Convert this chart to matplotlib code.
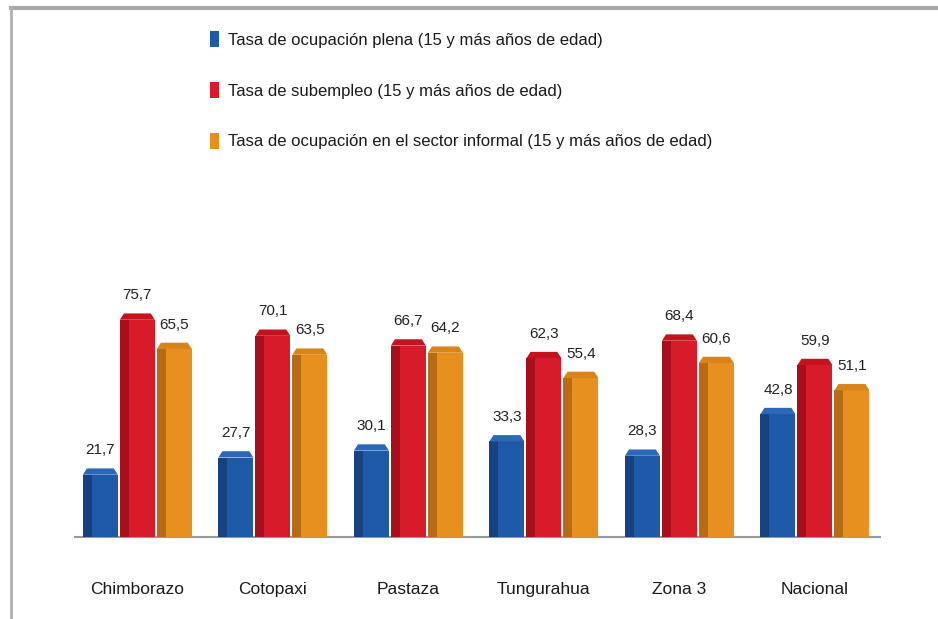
import numpy as np
import matplotlib
matplotlib.use('Agg')
import matplotlib.pyplot as plt
from matplotlib.patches import Patch, Polygon
from matplotlib.lines import Line2D

plt.rcParams['font.family'] = ['Liberation Sans', 'DejaVu Sans']

categories = ['Chimborazo', 'Cotopaxi', 'Pastaza', 'Tungurahua', 'Zona 3', 'Nacional']
plena = [21.7, 27.7, 30.1, 33.3, 28.3, 42.8]
subempleo = [75.7, 70.1, 66.7, 62.3, 68.4, 59.9]
informal = [65.5, 63.5, 64.2, 55.4, 60.6, 51.1]
labels = ['Tasa de ocupación plena (15 y más años de edad)',
          'Tasa de subempleo (15 y más años de edad)',
          'Tasa de ocupación en el sector informal (15 y más años de edad)']

front = ['#1f5aa8', '#d81b2b', '#e8901f']
side = ['#17427f', '#a5101c', '#b56c14']
cap = ['#2c68b8', '#c4121f', '#d9841a']

fig = plt.figure(figsize=(9.38, 6.19), dpi=100)
ax = fig.add_axes([75/938, 82/619, 805/938, 287/619])

x = np.arange(len(categories))
w = 0.258
off = 0.273
series = [plena, subempleo, informal]
for i, vals in enumerate(series):
    xs = x + (i - 1) * off
    ax.bar(xs, vals, width=w, color=front[i], zorder=2)
    # darker left side for a 3D look
    ax.bar(xs - w / 2, vals, width=0.065, align='edge', color=side[i], zorder=3)
    for xc, v in zip(xs, vals):
        x0, x1 = xc - w / 2, xc + w / 2
        poly = Polygon([(x0, v), (x0 + 0.03, v + 2.2), (x1 - 0.03, v + 2.2), (x1, v)],
                       closed=True, facecolor=cap[i], edgecolor='none', zorder=4)
        ax.add_patch(poly)
        ax.annotate(f'{v:.1f}'.replace('.', ','), (xc, v + 2.2), xytext=(0, 8),
                    textcoords='offset points', ha='center', va='bottom',
                    fontsize=11, color='#222222')

ax.set_xlim(-0.46, 5.48)
ax.set_ylim(0, 100)
ax.set_xticks(x)
ax.set_xticklabels(categories, fontsize=12.5, color='#1a1a1a')
ax.tick_params(axis='x', length=0, pad=32.5)
ax.set_yticks([])
for s in ['top', 'left', 'right']:
    ax.spines[s].set_visible(False)
ax.spines['bottom'].set_color('#9a9a9a')
ax.spines['bottom'].set_linewidth(1.5)
ax.spines['bottom'].set_zorder(1)
ax.patch.set_alpha(0)

handles = [Patch(facecolor=c, edgecolor='none') for c in front]
fig.legend(handles, labels, loc='upper left', bbox_to_anchor=(195/938, 1 - 16/619),
           frameon=False, fontsize=12, labelspacing=2.05, handlelength=0.55,
           handleheight=1.1, handletextpad=0.5, labelcolor='#1a1a1a')

# frame lines of the original figure
fig.add_artist(Line2D([11/938, 1], [1 - 8/619, 1 - 8/619], color='#a8a8a8', lw=3))
fig.add_artist(Line2D([11/938, 11/938], [0, 1 - 8/619], color='#b0b0b0', lw=2))

fig.savefig('out.png', dpi=100)
